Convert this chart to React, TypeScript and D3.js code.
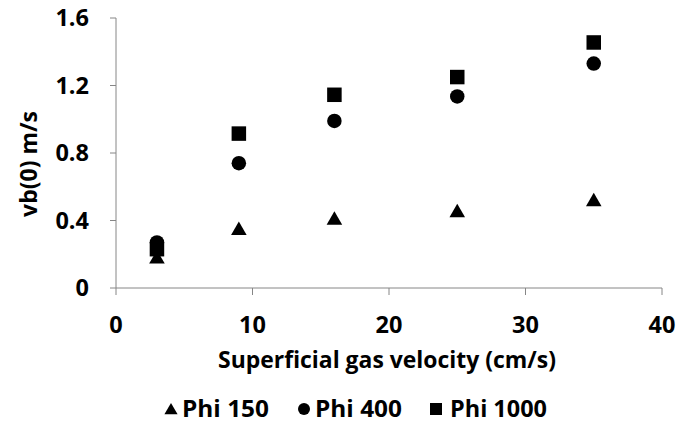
import React from "react";
import * as d3 from "d3";

const xValues = [3, 9, 16, 25, 35];
const phi150 = [0.18, 0.35, 0.41, 0.455, 0.52];
const phi400 = [0.27, 0.74, 0.99, 1.135, 1.33];
const phi1000 = [0.23, 0.915, 1.145, 1.25, 1.455];
const xTicks = [0, 10, 20, 30, 40];
const yTicks = [0, 0.4, 0.8, 1.2, 1.6];
const seriesNames = ["Phi 150", "Phi 400", "Phi 1000"];

const W = 680;
const H = 423;
const FONT = "'Open Sans', sans-serif";

export default function App() {
  const x = d3.scaleLinear().domain([0, 40]).range([116, 662]);
  const y = d3.scaleLinear().domain([0, 1.6]).range([288, 18]);
  const tri = d3.symbol().type(d3.symbolTriangle).size(105)();
  const triL = d3.symbol().type(d3.symbolTriangle).size(75)();
  const axisColor = "#868686";

  const series = [
    { name: seriesNames[0], vals: phi150, shape: "tri" },
    { name: seriesNames[1], vals: phi400, shape: "circle" },
    { name: seriesNames[2], vals: phi1000, shape: "square" },
  ];

  const marker = (shape: string, cx: number, cy: number, s: number, key: string) => {
    if (shape === "tri") {
      return <path key={key} d={s > 13 ? tri! : triL!} transform={`translate(${cx},${cy + 1.5})`} fill="#000" />;
    }
    if (shape === "circle") {
      return <circle key={key} cx={cx} cy={cy} r={s / 2} fill="#000" />;
    }
    return <rect key={key} x={cx - s / 2} y={cy - s / 2} width={s} height={s} fill="#000" />;
  };

  const legendItems = [
    { shape: "tri", mx: 171, tx: 182, w: 87 },
    { shape: "circle", mx: 304, tx: 315, w: 87 },
    { shape: "square", mx: 436, tx: 450, w: 97 },
  ];

  return (
    <svg width={W} height={H} style={{ position: "absolute", left: 0, top: 0, background: "#fff" }} fontFamily={FONT} fontWeight={700}>
      <line x1={x(0)} x2={x(0)} y1={y(1.6)} y2={y(0)} stroke={axisColor} strokeWidth={1} />
      <line x1={x(0)} x2={x(40)} y1={y(0)} y2={y(0)} stroke={axisColor} strokeWidth={1} />
      {yTicks.map((t) => (
        <g key={"y" + t}>
          <line x1={x(0) - 6} x2={x(0)} y1={y(t)} y2={y(t)} stroke={axisColor} />
          <text x={89} y={y(t)} dy="0.36em" textAnchor="end" fontSize={23.5} fill="#000">
            {t === 0 ? "0" : d3.format(".1f")(t)}
          </text>
        </g>
      ))}
      {xTicks.map((t) => (
        <g key={"x" + t}>
          <line x1={x(t)} x2={x(t)} y1={y(0)} y2={y(0) + 7} stroke={axisColor} />
          <text x={x(t)} y={325} dy="0.36em" textAnchor="middle" fontSize={23.5} fill="#000">
            {t}
          </text>
        </g>
      ))}
      <text x={218} y={360} dy="0.36em" fontSize={22.5} fill="#000" textLength={338} lengthAdjust="spacingAndGlyphs">
        Superficial gas velocity (cm/s)
      </text>
      <text transform={`translate(29,164) rotate(-90)`} dy="0.36em" textAnchor="middle" fontSize={23} fill="#000">
        vb(0) m/s
      </text>
      {series.map((s) =>
        s.vals.map((v, i) => marker(s.shape, x(xValues[i]), y(v), 14.5, s.name + i))
      )}
      {legendItems.map((l, i) => (
        <g key={"l" + i}>
          {marker(l.shape, l.mx, 409, 12, "lm" + i)}
          <text x={l.tx} y={409} dy="0.36em" fontSize={22.5} fill="#000" textLength={l.w} lengthAdjust="spacingAndGlyphs">
            {seriesNames[i]}
          </text>
        </g>
      ))}
    </svg>
  );
}
